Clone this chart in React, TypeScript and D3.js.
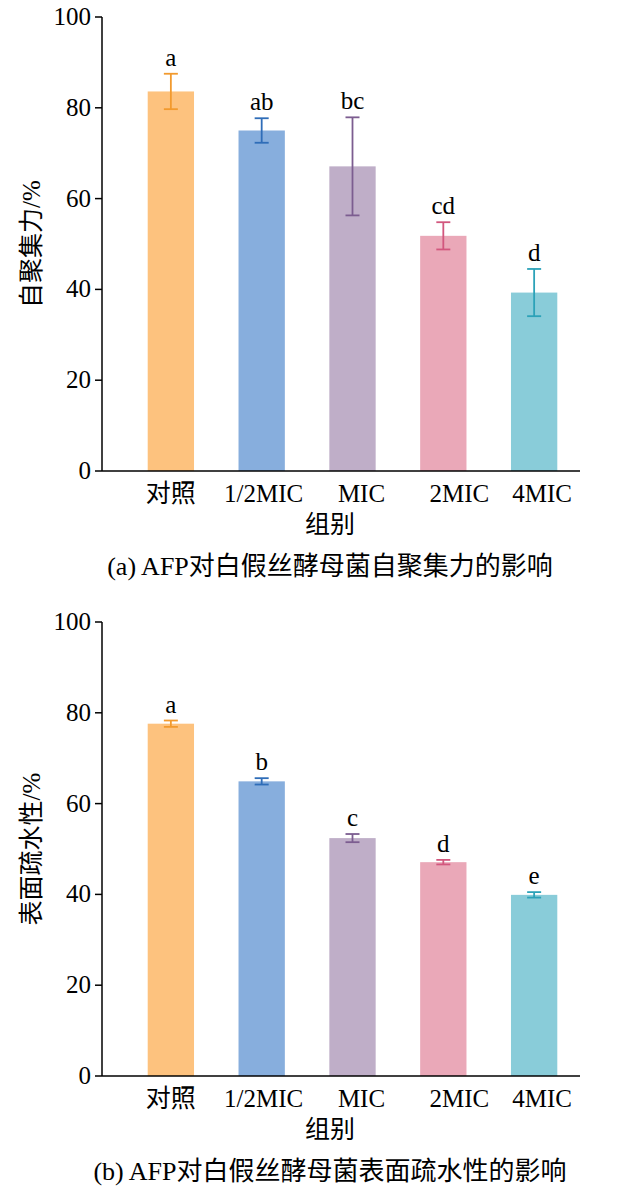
import * as d3 from 'd3';

const categories = ['对照', '1/2MIC', 'MIC', '2MIC', '4MIC'];
const yTicks = [0, 20, 40, 60, 80, 100];
const fills = ['#FDC27E', '#87AEDD', '#BFAEC8', '#EAA8B8', '#89CCD9'];
const strokes = ['#F29A2E', '#2F6DB8', '#7C5D90', '#D2577E', '#2CA2B8'];

const aggValues = [83.6, 75.0, 67.1, 51.8, 39.3];
const aggErr = [3.9, 2.7, 10.8, 3.0, 5.2];
const aggLetters = ['a', 'ab', 'bc', 'cd', 'd'];

const hydValues = [77.6, 64.9, 52.4, 47.1, 39.9];
const hydErr = [0.7, 0.7, 0.9, 0.5, 0.6];
const hydLetters = ['a', 'b', 'c', 'd', 'e'];

const font = '"Liberation Serif", "Noto Sans CJK SC", serif';
const labelDx = [0, 2, 9, 16, 8];

interface PanelProps {
  top: number;
  values: number[];
  errs: number[];
  letters: string[];
  yLabel: string;
  caption: string;
}

const Panel = ({ top, values, errs, letters, yLabel, caption }: PanelProps) => {
  const left = 102;
  const right = 580;
  const h = 454;
  const x = d3.scaleBand().domain(categories).range([left + 23, right]).paddingInner(0.49).paddingOuter(0.25);
  const y = d3.scaleLinear().domain([0, 100]).range([top + h, top]);
  const bw = x.bandwidth();
  return (
    <g fontFamily={font} fill="#000">
      {categories.map((c, i) => {
        const cx = x(c)! + bw / 2;
        const v = values[i];
        const e = errs[i];
        return (
          <g key={c}>
            <rect x={x(c)} y={y(v)} width={bw} height={y(0) - y(v)} fill={fills[i]} />
            <line x1={cx} x2={cx} y1={y(v + e)} y2={y(v - e)} stroke={strokes[i]} strokeWidth={1.8} />
            <line x1={cx - 7} x2={cx + 7} y1={y(v + e)} y2={y(v + e)} stroke={strokes[i]} strokeWidth={1.8} />
            <line x1={cx - 7} x2={cx + 7} y1={y(v - e)} y2={y(v - e)} stroke={strokes[i]} strokeWidth={1.8} />
            <text x={cx} y={y(v + e) - 8} textAnchor="middle" fontSize={25}>{letters[i]}</text>
            <text x={cx + labelDx[i]} y={y(0) + 31} textAnchor="middle" fontSize={25}>{c}</text>
          </g>
        );
      })}
      <line x1={left} x2={left} y1={top} y2={top + h} stroke="#000" strokeWidth={1.5} />
      <line x1={left} x2={right} y1={top + h} y2={top + h} stroke="#000" strokeWidth={1.5} />
      {yTicks.map((t) => (
        <g key={t}>
          <line x1={left - 7} x2={left} y1={y(t)} y2={y(t)} stroke="#000" strokeWidth={1.5} />
          <text x={left - 11} y={y(t) + 8} textAnchor="end" fontSize={25}>{t}</text>
        </g>
      ))}
      <text transform={`translate(40,${top + h / 2}) rotate(-90)`} textAnchor="middle" fontSize={25}>{yLabel}</text>
      <text x={330} y={top + h + 62} textAnchor="middle" fontSize={25}>{'组别'}</text>
      <text x={330} y={top + h + 104} textAnchor="middle" fontSize={26}>{caption}</text>
    </g>
  );
};

export default function App() {
  return (
    <svg width={635} height={1199} style={{ display: 'block', background: '#fff', position: 'absolute', left: 0, top: 0 }}>
      <Panel top={17} values={aggValues} errs={aggErr} letters={aggLetters} yLabel="自聚集力/%" caption="(a) AFP对白假丝酵母菌自聚集力的影响" />
      <Panel top={622} values={hydValues} errs={hydErr} letters={hydLetters} yLabel="表面疏水性/%" caption="(b) AFP对白假丝酵母菌表面疏水性的影响" />
    </svg>
  );
}
